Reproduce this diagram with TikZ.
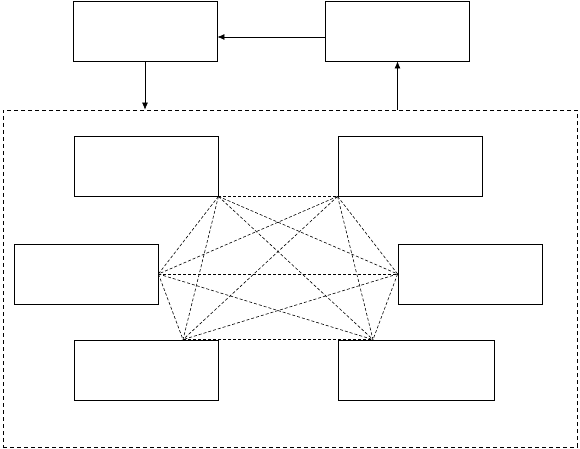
\documentclass[tikz,border=0pt]{standalone}
\usepackage{tikz}
\usetikzlibrary{positioning,arrows.meta}

\begin{document}
\begin{tikzpicture}[x=1pt,y=-1pt,
		box/.style={draw,rectangle,line width=0.8pt,minimum width=144pt,minimum height=60pt,inner sep=0pt},
		link/.style={dashed,line width=0.6pt,dash pattern=on 3pt off 2pt},
		flow/.style={line width=0.7pt,-{Latex[length=7pt,width=6pt]}}]
			
			\useasboundingbox (0,0) rectangle (580,449);
			
			% outer group
			\node[draw,dashed,line width=0.7pt,dash pattern=on 4pt off 3pt,minimum width=574pt,minimum height=337pt,inner sep=0pt] (grp) at (290,278.5) {};
			
			\node[box] (top1) at (145,31) {};
			\node[box] (top2) at (397.5,31) {};
			
			\node[box] (n1) at (146,166) {};
			\node[box] (n2) at (410,166) {};
			\node[box] (n3) at (86,274) {};
			\node[box] (n4) at (470,274) {};
			\node[box] (n5) at (146,370) {};
			\node[box,minimum width=156pt] (n6) at (416,370) {};
			
			\draw[flow] ([yshift=-6pt]top2.west) -- ([yshift=-6pt]top1.east);
			\draw[flow] (top1.south) -- (top1.south |- grp.north);
			\draw[flow] (top2.south |- grp.north) -- (top2.south);
			
			% mesh
			\coordinate (p1) at (n1.south east);
			\coordinate (p2) at (n2.south west);
			\coordinate (p3) at (n3.east);
			\coordinate (p4) at (n4.west);
			\coordinate (p5) at ([xshift=37pt]n5.north);
			\coordinate (p6) at ([xshift=-43pt]n6.north);
			
			\foreach \a/\b in {1/2,1/3,1/4,1/5,1/6,2/3,2/4,2/5,2/6,3/4,3/5,3/6,4/5,4/6,5/6}
				\draw[link] (p\a) -- (p\b);
			
		\end{tikzpicture}
\end{document}
